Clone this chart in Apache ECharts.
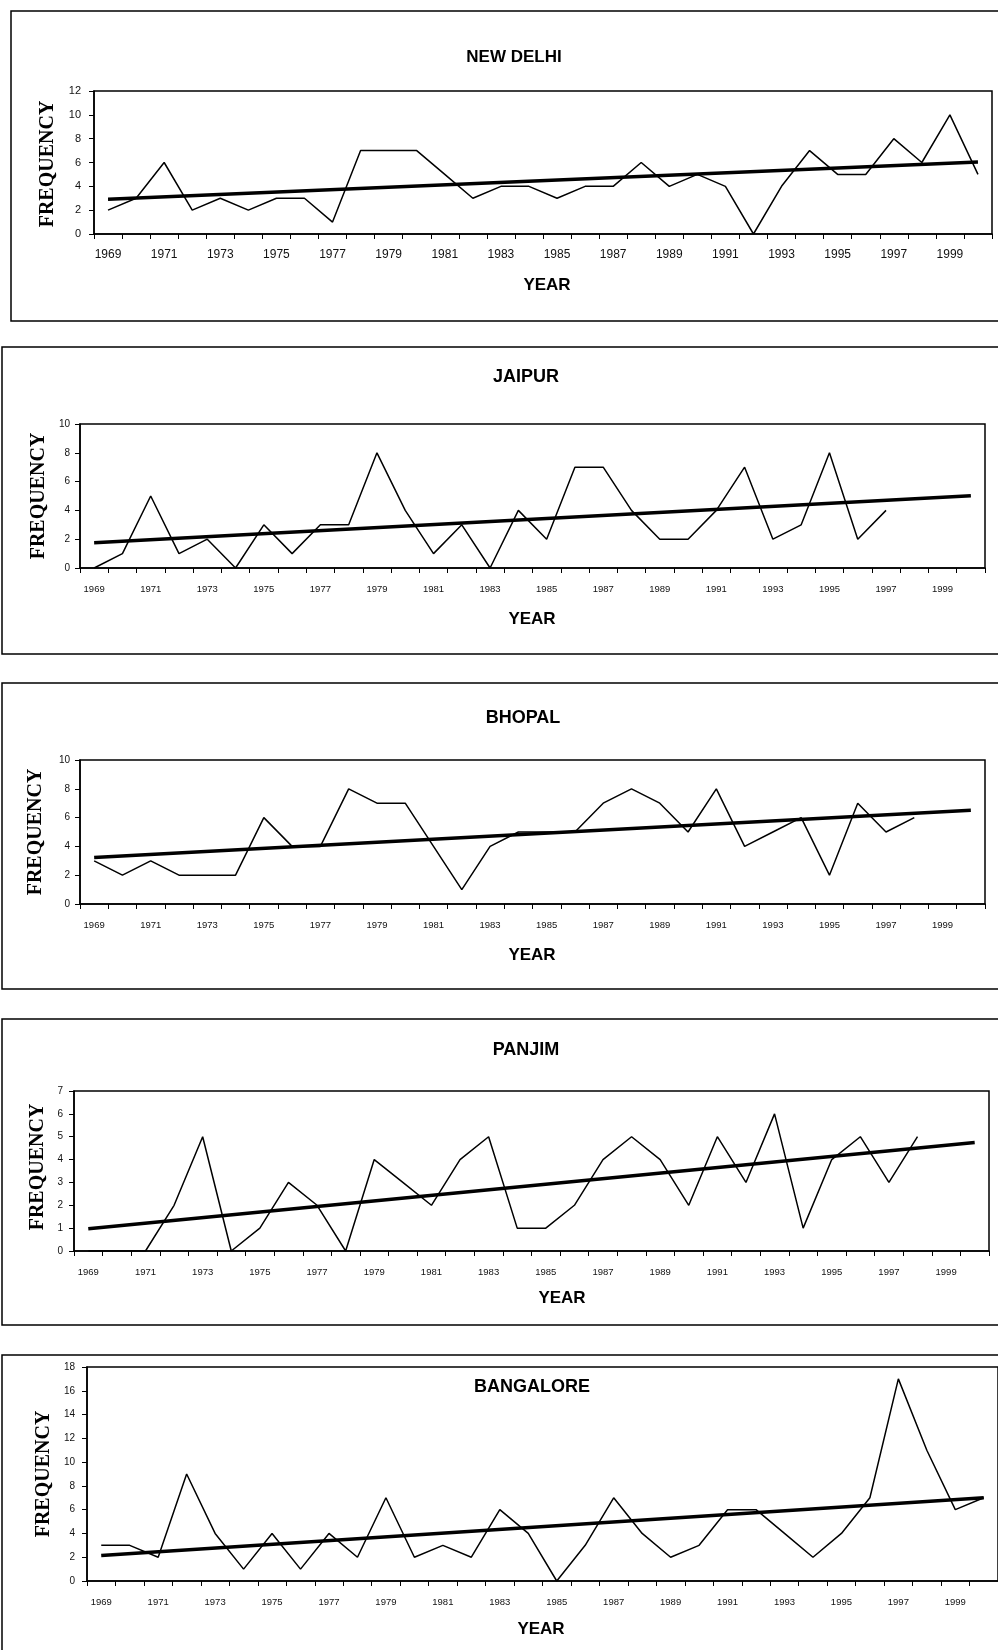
<!DOCTYPE html>
<html><head><meta charset="utf-8">
<script src="https://cdn.jsdelivr.net/npm/echarts@6/dist/echarts.min.js"></script>
<style>html,body{margin:0;padding:0;background:#fff}#c{width:998px;height:1650px}</style>
</head><body><div id="c"></div>
<script>
// ---------- DATA ----------
const years = ['1969','1970','1971','1972','1973','1974','1975','1976','1977','1978','1979','1980','1981','1982','1983','1984',
               '1985','1986','1987','1988','1989','1990','1991','1992','1993','1994','1995','1996','1997','1998','1999','2000'];
const cities = ['NEW DELHI','JAIPUR','BHOPAL','PANJIM','BANGALORE'];
const newDelhi  = [2,3,6,2,3,2,3,3,1,7,7,7,5,3,4,4,3,4,4,6,4,5,4,0,4,7,5,5,8,6,10,5];
const jaipur    = [0,1,5,1,2,0,3,1,3,3,8,4,1,3,0,4,2,7,7,4,2,2,4,7,2,3,8,2,4,null,null,null];
const bhopal    = [3,2,3,2,2,2,6,4,4,8,7,7,4,1,4,5,5,5,7,8,7,5,8,4,5,6,2,7,5,6,null,null];
const panjim    = [0,0,0,2,5,0,1,3,2,0,4,3,2,4,5,1,1,2,4,5,4,2,5,3,6,1,4,5,3,5,null,null];
const bangalore = [3,3,2,9,4,1,4,1,4,2,7,2,3,2,6,4,0,3,7,4,2,3,6,6,4,2,4,7,17,11,6,7];
// linear trend lines, value at 1969 and at 2000
const trendStart = [2.92, 1.75, 3.23, 0.97, 2.15];
const trendEnd   = [6.04, 5.01, 6.51, 4.75, 7.0];
const yMax  = [12, 10, 10, 7, 18];
const yStep = [2, 2, 2, 1, 2];
const xName = 'YEAR';
const yName = 'FREQUENCY';

// ---------- LAYOUT ----------
const series = [newDelhi, jaipur, bhopal, panjim, bangalore];
const SANS = '"Liberation Sans", Arial, sans-serif';
const SERIF = '"Liberation Serif", "Times New Roman", serif';
const L = [
  {left:94, right:6,  top:91,   height:143, box:[11,11,1000,310],  title:[514,57,17],  year:[547,285],  freq:[48,164],  xf:12, yf:11, xm:15, ym:13},
  {left:80, right:13, top:424,  height:144, box:[2,347,1010,307],  title:[526,377,18], year:[532,619],  freq:[39,496],  xf:9.5, yf:10, xm:16, ym:10},
  {left:80, right:13, top:760,  height:144, box:[2,683,1010,306],  title:[523,718,18], year:[532,955],  freq:[36,832],  xf:9.5, yf:10, xm:16, ym:10},
  {left:74, right:9,  top:1091, height:160, box:[2,1019,1010,306], title:[526,1050,18],year:[562,1298], freq:[38,1167], xf:9.5, yf:10, xm:16, ym:11},
  {left:87, right:-2, top:1367, height:214, box:[2,1355,1010,400], title:[532,1387,18],year:[541,1629], freq:[44,1474], xf:9.5, yf:10, xm:16, ym:12}
];

const grid = [], xAxis = [], yAxis = [], ser = [], graphic = [];
L.forEach((l, i) => {
  grid.push({left:l.left, right:l.right, top:l.top, height:l.height, show:true, borderColor:'#000', borderWidth:1.5, backgroundColor:'transparent', containLabel:false});
  xAxis.push({type:'category', gridIndex:i, data:years, boundaryGap:true,
    axisLine:{lineStyle:{color:'#000', width:1.5}},
    axisTick:{show:true, interval:0, length:5, lineStyle:{color:'#000', width:1}},
    axisLabel:{interval:1, color:'#111', fontFamily:SANS, fontSize:l.xf, margin:l.xm},
    splitLine:{show:false}});
  yAxis.push({type:'value', gridIndex:i, min:0, max:yMax[i], interval:yStep[i],
    axisLine:{show:true, lineStyle:{color:'#000', width:1.5}},
    axisTick:{show:true, length:5, lineStyle:{color:'#000', width:1}},
    axisLabel:{color:'#111', fontFamily:SANS, fontSize:l.yf, margin:l.ym},
    splitLine:{show:false}});
  ser.push({type:'line', xAxisIndex:i, yAxisIndex:i, data:series[i], symbol:'none', connectNulls:false,
    lineStyle:{color:'#000', width:1.5}, z:3});
  ser.push({type:'line', xAxisIndex:i, yAxisIndex:i, data:[[years[0], trendStart[i]], [years[years.length-1], trendEnd[i]]],
    symbol:'none', lineStyle:{color:'#000', width:3.5}, z:4});
  graphic.push({type:'rect', shape:{x:l.box[0], y:l.box[1], width:l.box[2], height:l.box[3]}, style:{fill:'none', stroke:'#000', lineWidth:1.5}, z:0, silent:true});
  graphic.push({type:'text', x:l.title[0], y:l.title[1], style:{text:cities[i], align:'center', verticalAlign:'middle', fontFamily:SANS, fontWeight:'bold', fontSize:l.title[2], fill:'#000'}});
  graphic.push({type:'text', x:l.year[0], y:l.year[1], style:{text:xName, align:'center', verticalAlign:'middle', fontFamily:SANS, fontWeight:'bold', fontSize:17, fill:'#000'}});
  graphic.push({type:'text', x:l.freq[0], y:l.freq[1], rotation:Math.PI/2, style:{text:yName, align:'center', verticalAlign:'middle', fontFamily:SERIF, fontWeight:'bold', fontSize:20, fill:'#000'}});
});

const chart = echarts.init(document.getElementById('c'), null, {renderer:'canvas'});
chart.setOption({animation:false, backgroundColor:'#fff', grid, xAxis, yAxis, series:ser, graphic});
</script>
</body></html>
